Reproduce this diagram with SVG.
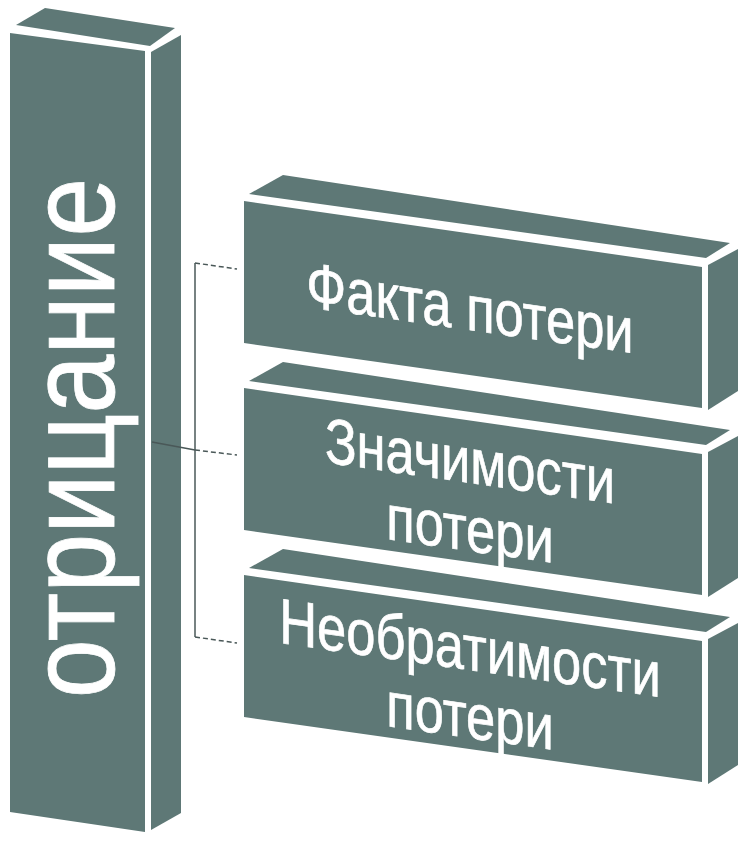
<svg xmlns="http://www.w3.org/2000/svg" width="744" height="842" viewBox="0 0 744 842">
<style>
.face{fill:#5E7876;}
.lbl{fill:#FFFFFF;stroke:#FFFFFF;stroke-width:0.7;font-family:"Liberation Sans",Arial,sans-serif;font-size:64px;text-anchor:middle;}
.vlbl{fill:#FFFFFF;stroke:#FFFFFF;stroke-width:0.8;font-family:"Liberation Sans",Arial,sans-serif;font-size:122px;text-anchor:middle;}
.con{stroke:#4A5858;stroke-width:1.5;fill:none;}
.dash{stroke-dasharray:5 3;}
</style>
<rect width="744" height="842" fill="#FFFFFF"/>
<g id="node-otricanie">
<polygon class="face" points="16,25 45,8 175,28 150,46"/>
<polygon class="face" points="10,33 145,51 145,832 10,812"/>
<polygon class="face" points="151,52 181,35 181,813 151,830"/>
<text class="vlbl" transform="translate(114,438) rotate(-90) scale(0.87,1)">отрицание</text>
</g>
<g id="node-fakta">
<polygon class="face" points="249,194 283,175 730,243 706,258"/>
<polygon class="face" points="244,201 702,267 702,408 244,343"/>
<polygon class="face" points="708,265 738,249 738,391 708,410"/>
<text class="lbl" transform="translate(470,330) skewY(8.1) scale(0.82,1)">Факта потери</text>
</g>
<g id="node-znachimosti" transform="translate(0,187)">
<polygon class="face" points="249,194 283,175 730,243 706,258"/>
<polygon class="face" points="244,201 702,267 702,408 244,343"/>
<polygon class="face" points="708,265 738,249 738,391 708,410"/>
<text class="lbl" transform="translate(470,296) skewY(8.1) scale(0.82,1)"><tspan x="0" y="0">Значимости</tspan><tspan x="0" y="68">потери</tspan></text>
</g>
<g id="node-neobratimosti" transform="translate(0,374)">
<polygon class="face" points="249,194 283,175 730,243 706,258"/>
<polygon class="face" points="244,201 702,267 702,408 244,343"/>
<polygon class="face" points="708,265 738,249 738,391 708,410"/>
<text class="lbl" transform="translate(470,296) skewY(8.1) scale(0.82,1)"><tspan x="0" y="0">Необратимости</tspan><tspan x="0" y="68">потери</tspan></text>
</g>
<g id="connectors">
<line class="con" x1="195" y1="263" x2="195" y2="637"/>
<line class="con" x1="152" y1="442" x2="195" y2="450"/>
<line class="con dash" x1="195" y1="263" x2="237" y2="269"/>
<line class="con dash" x1="195" y1="450" x2="237" y2="455"/>
<line class="con dash" x1="195" y1="637" x2="237" y2="643"/>
</g>
</svg>
